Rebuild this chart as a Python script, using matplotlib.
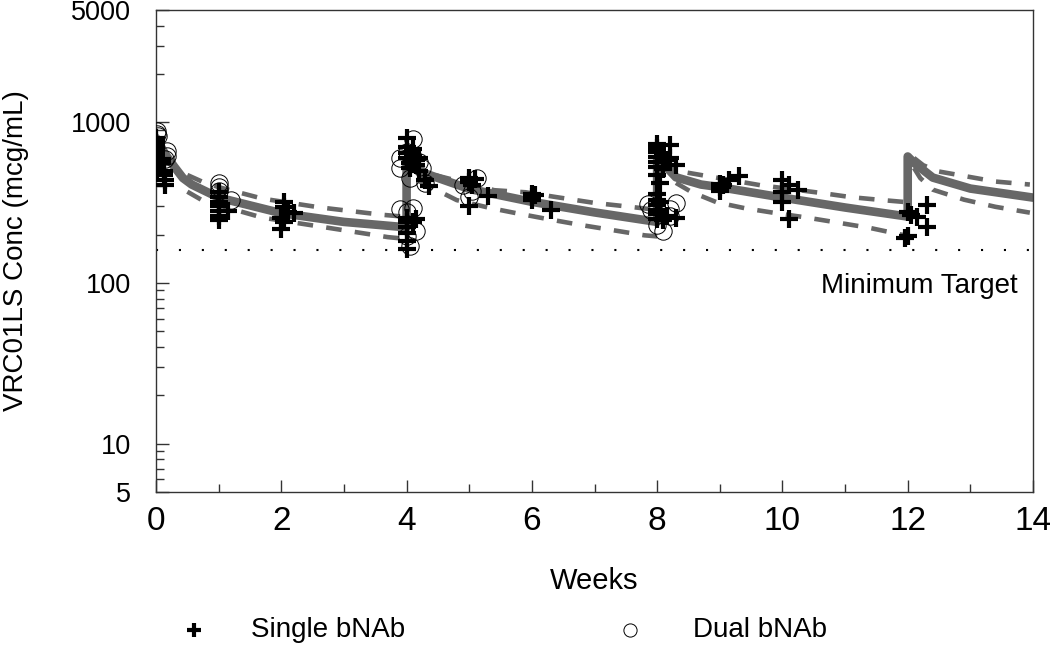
import matplotlib
matplotlib.use('Agg')
import matplotlib.pyplot as plt
import matplotlib.ticker as mticker
from matplotlib.lines import Line2D
import numpy as np

plt.rcParams['font.family'] = ['Liberation Sans', 'DejaVu Sans']

GRAY = '#676767'
AXIS = '#333333'

# model prediction (median) - one continuous line, doses at weeks 0, 4, 8, 12
model_weeks = [0, 0.14, 0.29, 0.43, 0.57, 1, 2, 3, 4,
               4, 4.1, 4.3, 5, 6, 7, 8,
               8, 8.1, 8.3, 8.7, 9, 10, 11, 12,
               12, 12.1, 12.4, 13, 14]
model_conc = [800, 640, 530, 450, 410, 340, 272, 240, 222,
              578, 530, 480, 385, 320, 275, 240,
              600, 550, 455, 410, 395, 340, 295, 259,
              613, 560, 453, 387, 340]

# upper / lower prediction bounds (dashed), one segment per dosing interval
upper_weeks = [[0.5, 0.75, 1, 1.7, 2.6, 3.6, 4.0],
               [4.1, 4.2, 4.45, 5.4, 5.9, 6.4, 7.0, 7.5, 8.0],
               [8.1, 8.3, 8.7, 9.65, 10.65, 11.1, 11.6, 12.0],
               [12.1, 12.25, 12.5, 12.95, 13.4, 13.95]]
upper_conc = [[470, 425, 395, 335, 296, 266, 258],
              [600, 540, 470, 378, 367, 342, 315, 300, 285],
              [590, 500, 470, 406, 362, 342, 328, 318],
              [600, 540, 494, 460, 428, 410]]
lower_weeks = [[0.5, 0.75, 1, 1.7, 2.7, 3.7, 4.0],
               [4.2, 4.8, 5.35, 5.75, 6.25, 6.8, 7.3, 7.8, 8.0],
               [8.3, 8.55, 8.95, 9.4, 9.9, 10.4, 10.9, 11.4, 11.9, 12.0],
               [12.1, 12.2, 12.4, 12.9, 13.4, 13.95]]
lower_conc = [[370, 325, 305, 255, 222, 193, 188],
              [430, 328, 292, 272, 250, 229, 213, 198, 195],
              [420, 368, 318, 292, 272, 255, 237, 220, 200, 197],
              [520, 450, 381, 330, 298, 274]]

# observed - single bNAb
single_weeks = [0, 0, 0, 0, 0, 0, 0, 0, 0, 0.02, 0.12, 0.12, 0.14, 0.15, 0.1, 0.1,   # wk 0
                1, 1, 1, 1, 1, 1, 1, 1.15,                                          # wk 1
                2.05, 2.05, 2.1, 2.0, 2.05, 2.0, 2.2,                               # wk 2
                4, 4, 4, 4, 4, 4, 4.15, 4.1,                                        # wk 4 trough
                4, 4, 4, 4, 4.05, 4.1, 4.1, 4.15, 4.15, 4.2, 4.3, 4.35, 4.05, 4.2,  # wk 4 peak
                5, 5, 5.1, 5.05, 5, 5.3,                                            # wk 5
                6, 6, 6, 6.05, 6.3,                                                 # wk 6
                8, 8, 8, 8, 8, 8, 8.1, 8.15, 8.3, 8.05,                             # wk 8 trough
                8, 8, 8, 8, 8, 8, 8, 8.05, 8.2, 8.1, 8.15, 8.3, 8.1, 8.2,           # wk 8 peak
                9, 9, 9.05, 9, 9.15, 9.3,                                           # wk 9
                10, 10, 10, 10.1, 10.25, 10.1,                                      # wk 10
                12, 12.15, 12.3, 12.3, 12, 11.95, 12.05]                            # wk 12
single_conc = [800, 760, 720, 690, 660, 630, 600, 570, 540, 510, 500, 470, 440, 410, 560, 590,
               370, 345, 320, 300, 280, 262, 245, 280,
               320, 298, 275, 255, 240, 218, 272,
               255, 238, 222, 205, 182, 162, 252, 240,
               800, 700, 640, 600, 560, 680, 620, 580, 540, 500, 440, 400, 520, 600,
               450, 425, 445, 405, 300, 350,
               360, 345, 330, 352, 285,
               360, 330, 305, 285, 268, 252, 245, 262, 255, 320,
               730, 690, 650, 610, 570, 530, 470, 420, 720, 630, 580, 545, 510, 600,
               415, 395, 405, 375, 435, 465,
               435, 370, 320, 405, 380, 250,
               275, 258, 305, 222, 195, 190, 265]

# observed - dual bNAb
dual_weeks = [0.02, 0.02, 0.03, 0.17, 0.18, 0.15,
              1, 1, 1, 1.2,
              3.9, 4.1, 4.0, 4.15, 4.0, 4.05,
              4.1, 3.9, 3.9, 4.2, 4.25, 4.3, 4.05, 4.0,
              4.9, 5.13, 5.0, 5.05,
              7.85, 7.9, 8.3, 8.2, 8.0, 8.1, 8.2]
dual_conc = [880, 850, 820, 660, 620, 590,
             420, 395, 375, 330,
             290, 295, 275, 210, 195, 170,
             790, 600, 520, 565, 520, 420, 450, 650,
             405, 450, 342, 375,
             310, 285, 315, 290, 230, 210, 260]

min_target = 160

fig = plt.figure(figsize=(10.5, 6.51), dpi=100)
fig.patch.set_facecolor('white')
ax = fig.add_axes([0.1486, 0.2442, 0.8352, 0.7404])

ax.plot(model_weeks, model_conc, color=GRAY, lw=6.2, solid_capstyle='round',
        solid_joinstyle='round', zorder=2)
for tw, cw in zip(upper_weeks + lower_weeks, upper_conc + lower_conc):
    ax.plot(tw, cw, color=GRAY, lw=3.3, linestyle=(0, (3.4, 2.9)), zorder=2)

ax.axhline(min_target, color='black', lw=1.5, linestyle=(0, (1, 10)), zorder=1)
ax.text(13.75, 87, 'Minimum Target', ha='right', va='baseline', fontsize=20)

ax.plot(dual_weeks, dual_conc, 'o', ms=12.5, mfc='none', mec='black', mew=0.7, zorder=3)
ax.plot(single_weeks, single_conc, '+', ms=12.5, color='black', mew=3, zorder=4)

ax.set_yscale('log')
ax.set_ylim(5, 5000)
ax.set_xlim(0, 14)
ax.set_yticks([5, 10, 100, 1000, 5000])
ax.set_yticklabels(['5', '10', '100', '1000', '5000'])
ax.yaxis.set_minor_locator(mticker.LogLocator(base=10, subs=np.arange(2, 10), numticks=20))
ax.yaxis.set_minor_formatter(mticker.NullFormatter())
ax.set_xticks(np.arange(0, 15, 2))
ax.xaxis.set_minor_locator(mticker.MultipleLocator(1))

ax.tick_params(axis='both', which='both', direction='in', color=AXIS)
ax.tick_params(axis='both', which='major', length=9, width=1)
ax.tick_params(axis='both', which='minor', length=6, width=1)
ax.tick_params(axis='y', which='major', labelsize=19.5, pad=18)
ax.tick_params(axis='x', which='major', labelsize=24, pad=10)
for sp in ax.spines.values():
    sp.set_color(AXIS)
    sp.set_linewidth(1)

ax.set_xlabel('Weeks', fontsize=21)
ax.xaxis.set_label_coords(0.5, -0.155)
ax.set_ylabel('VRC01LS Conc (mcg/mL)', fontsize=20)
ax.yaxis.set_label_coords(-0.145, 0.5)

# legend row under the axes
fig.add_artist(Line2D([194 / 1050], [1 - 630 / 651], transform=fig.transFigure,
                      marker='+', ms=10, mew=3, color='black', ls='none'))
fig.text(251 / 1050, 1 - 630 / 651, 'Single bNAb', fontsize=20, ha='left', va='center')
fig.add_artist(Line2D([630 / 1050], [1 - 630 / 651], transform=fig.transFigure,
                      marker='o', ms=9.5, mfc='none', mec='black', mew=0.7, ls='none'))
fig.text(693 / 1050, 1 - 630 / 651, 'Dual bNAb', fontsize=20, ha='left', va='center')

fig.savefig('out.png', dpi=100, facecolor='white')
plt.close(fig)
